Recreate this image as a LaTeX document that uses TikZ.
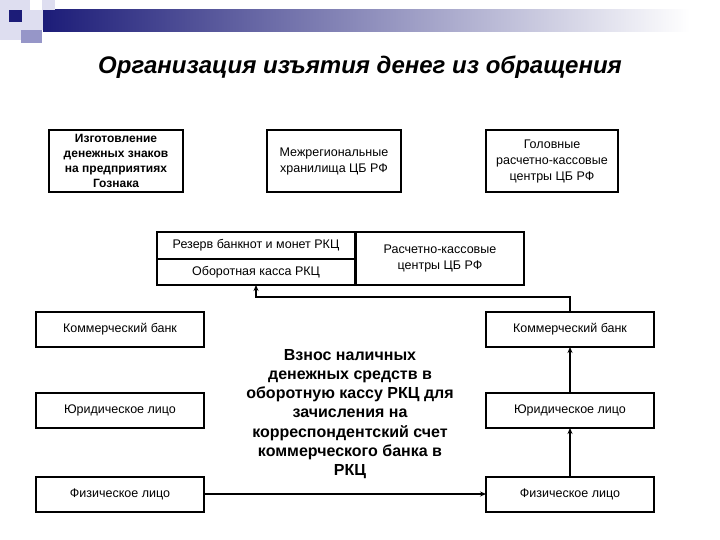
\documentclass[tikz,border=0pt]{standalone}
\usepackage{fontspec}
\setmainfont{Liberation Sans}
\usepackage{xcolor}
\usepackage{tikz}
\usetikzlibrary{matrix}
\usetikzlibrary{arrows.meta, positioning}

\definecolor{navyband}{RGB}{28,28,120}
\definecolor{lavlight}{RGB}{222,222,240}
\definecolor{lavmid}{RGB}{150,150,200}

\begin{document}
\begin{tikzpicture}[
        x=1pt, y=-1pt,
        box/.style={draw, line width=2pt, outer sep=0pt, inner sep=2pt, align=center, font=\fontsize{12.5}{16}\selectfont},
        sidebox/.style={box, minimum width=168pt, minimum height=35pt},
        topbox/.style={box, minimum height=62pt},
        table/.style={matrix of nodes, inner sep=0pt, outer sep=0pt, row sep=-2pt, nodes={draw, line width=2pt, outer sep=0pt, minimum width=198pt, minimum height=26.5pt, font=\fontsize{12.5}{16}\selectfont}},
        arr/.style={line width=2pt, -{Stealth[length=6pt, width=5pt]}}
    ]
    \useasboundingbox (0,0) rectangle (720,540);

    % Полоса в углу слайда
    \fill[lavlight] (0,0) rectangle (30,40);
    \shade[left color=navyband, right color=white] (43,10) rectangle (690,32);
    \fill[lavlight] (30,10) rectangle (43,30);
    \fill[lavlight] (42,0) rectangle (55,10);
    \fill[navyband] (9,10) rectangle (22,22);
    \fill[lavmid] (21,30) rectangle (42,43);

    \node[font=\fontsize{24}{28}\selectfont\bfseries\itshape] (title) at (360,67) {Организация изъятия денег из обращения};

    % Верхний ряд
    \node[topbox, minimum width=134pt, font=\fontsize{12}{15}\selectfont\bfseries] (goznak) at (116,161) {Изготовление\\денежных знаков\\на предприятиях\\Гознака};
    \node[topbox, minimum width=134pt] (hran) at (334,161) {Межрегиональные\\хранилища ЦБ РФ};
    \node[topbox, minimum width=132pt] (grkc) at (552,161) {Головные\\расчетно-кассовые\\центры ЦБ РФ};

    % РКЦ
    \matrix (rkc) [table, anchor=north west] at (156,231) {
        Резерв банкнот и монет РКЦ \\
        Оборотная касса РКЦ \\
    };
    \node[box, right=0pt of rkc, minimum width=168pt, minimum height=53pt] (rkcc) {Расчетно-кассовые\\центры ЦБ РФ};

    % Левая колонка
    \node[sidebox] (bankL) at (120,329.5) {Коммерческий банк};
    \node[sidebox] (yurL) at (120,410.5) {Юридическое лицо};
    \node[sidebox] (fizL) at (120,494) {Физическое лицо};

    % Правая колонка
    \node[sidebox] (bankR) at (570,329.5) {Коммерческий банк};
    \node[sidebox] (yurR) at (570,410.5) {Юридическое лицо};
    \node[sidebox] (fizR) at (570,494) {Физическое лицо};

    \node[font=\fontsize{16}{19.2}\selectfont\bfseries, align=center] (vznos) at (350,414) {Взнос наличных\\денежных средств в\\оборотную кассу РКЦ для\\зачисления на\\корреспондентский счет\\коммерческого банка в\\РКЦ};

    % Стрелки
    \draw[arr] (fizL) -- (fizR);
    \draw[arr] (fizR) -- (yurR);
    \draw[arr] (yurR) -- (bankR);
    \draw[arr] (bankR.north) -- ++(0,-15) -| (rkc-2-1.south);
\end{tikzpicture}
\end{document}
